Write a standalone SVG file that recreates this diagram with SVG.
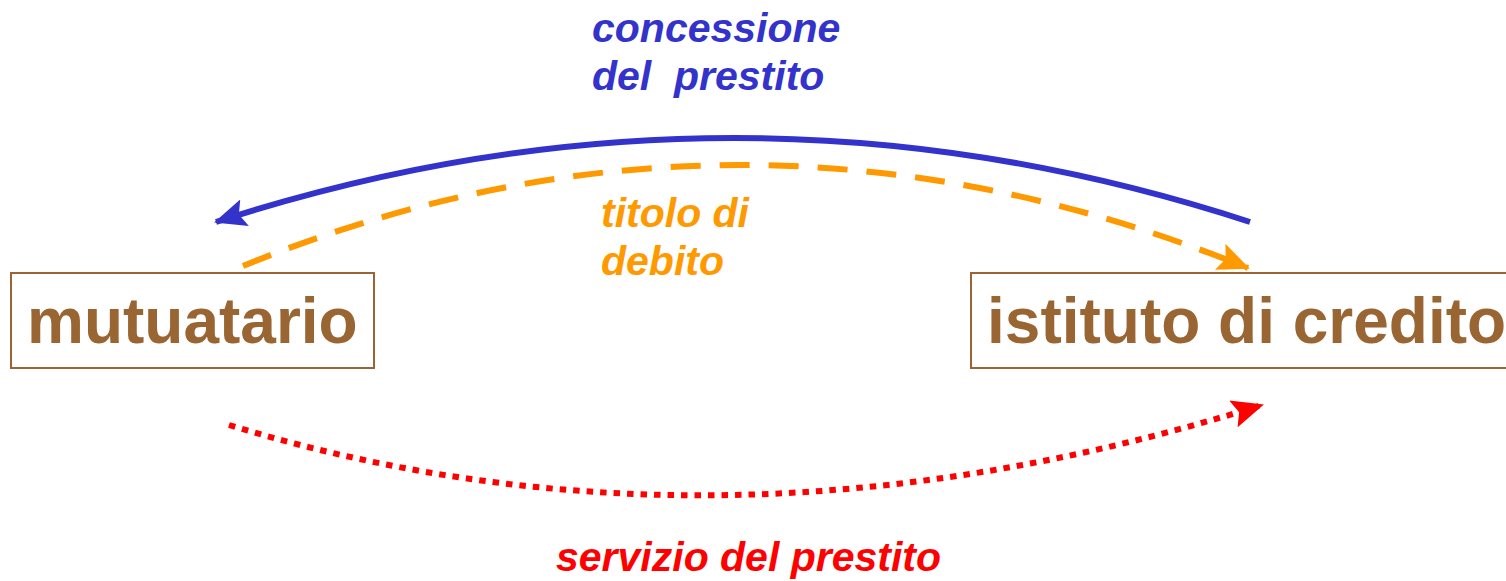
<svg xmlns="http://www.w3.org/2000/svg" width="1506" height="581" viewBox="0 0 1506 581">
<style>
.box{fill:#fff;stroke:#996633;stroke-width:2}
.nt{font-family:"Liberation Sans",Arial,sans-serif;font-weight:bold;font-size:64px;fill:#996633}
.lb{font-family:"Liberation Sans",Arial,sans-serif;font-weight:bold;font-style:italic;font-size:41px}
.c{fill:none;stroke-width:6}
</style>
<defs>
<marker id="ab" markerUnits="userSpaceOnUse" markerWidth="32" markerHeight="28" refX="30" refY="14" orient="auto" viewBox="0 0 32 28"><path d="M0,0 L32,14 L0,28 L6,14 Z" fill="#3333cc"/></marker>
<marker id="ao" markerUnits="userSpaceOnUse" markerWidth="32" markerHeight="28" refX="30" refY="14" orient="auto" viewBox="0 0 32 28"><path d="M0,0 L32,14 L0,28 L6,14 Z" fill="#ff9900"/></marker>
<marker id="ar" markerUnits="userSpaceOnUse" markerWidth="32" markerHeight="28" refX="30" refY="14" orient="auto" viewBox="0 0 32 28"><path d="M0,0 L32,14 L0,28 L6,14 Z" fill="#ff0000"/></marker>
</defs>
<g id="connectors">
<path class="c" d="M1250,222 Q735,54 216,222" stroke="#3333cc" marker-end="url(#ab)"/>
<path class="c" d="M243,266 Q740,63 1248,268" stroke="#ff9900" stroke-dasharray="30 19" marker-end="url(#ao)"/>
<path class="c" d="M229,425 Q720,575 1262,405" stroke="#ff0000" stroke-width="6.5" stroke-dasharray="6.5 7" marker-end="url(#ar)"/>
</g>
<g id="mutuatario">
<rect class="box" x="11" y="273" width="363" height="95"/>
<text class="nt" x="27" y="343">mutuatario</text>
</g>
<g id="istituto">
<rect class="box" x="971" y="273" width="545" height="95"/>
<text class="nt" x="987" y="343">istituto di credito</text>
</g>
<g id="labels">
<text class="lb" x="592" y="42" fill="#3333cc">concessione</text>
<text class="lb" x="592" y="90" fill="#3333cc" xml:space="preserve">del  prestito</text>
<text class="lb" x="601" y="227" fill="#ff9900">titolo di</text>
<text class="lb" x="601" y="275" fill="#ff9900">debito</text>
<text class="lb" x="556" y="571" fill="#ff0000">servizio del prestito</text>
</g>
</svg>
